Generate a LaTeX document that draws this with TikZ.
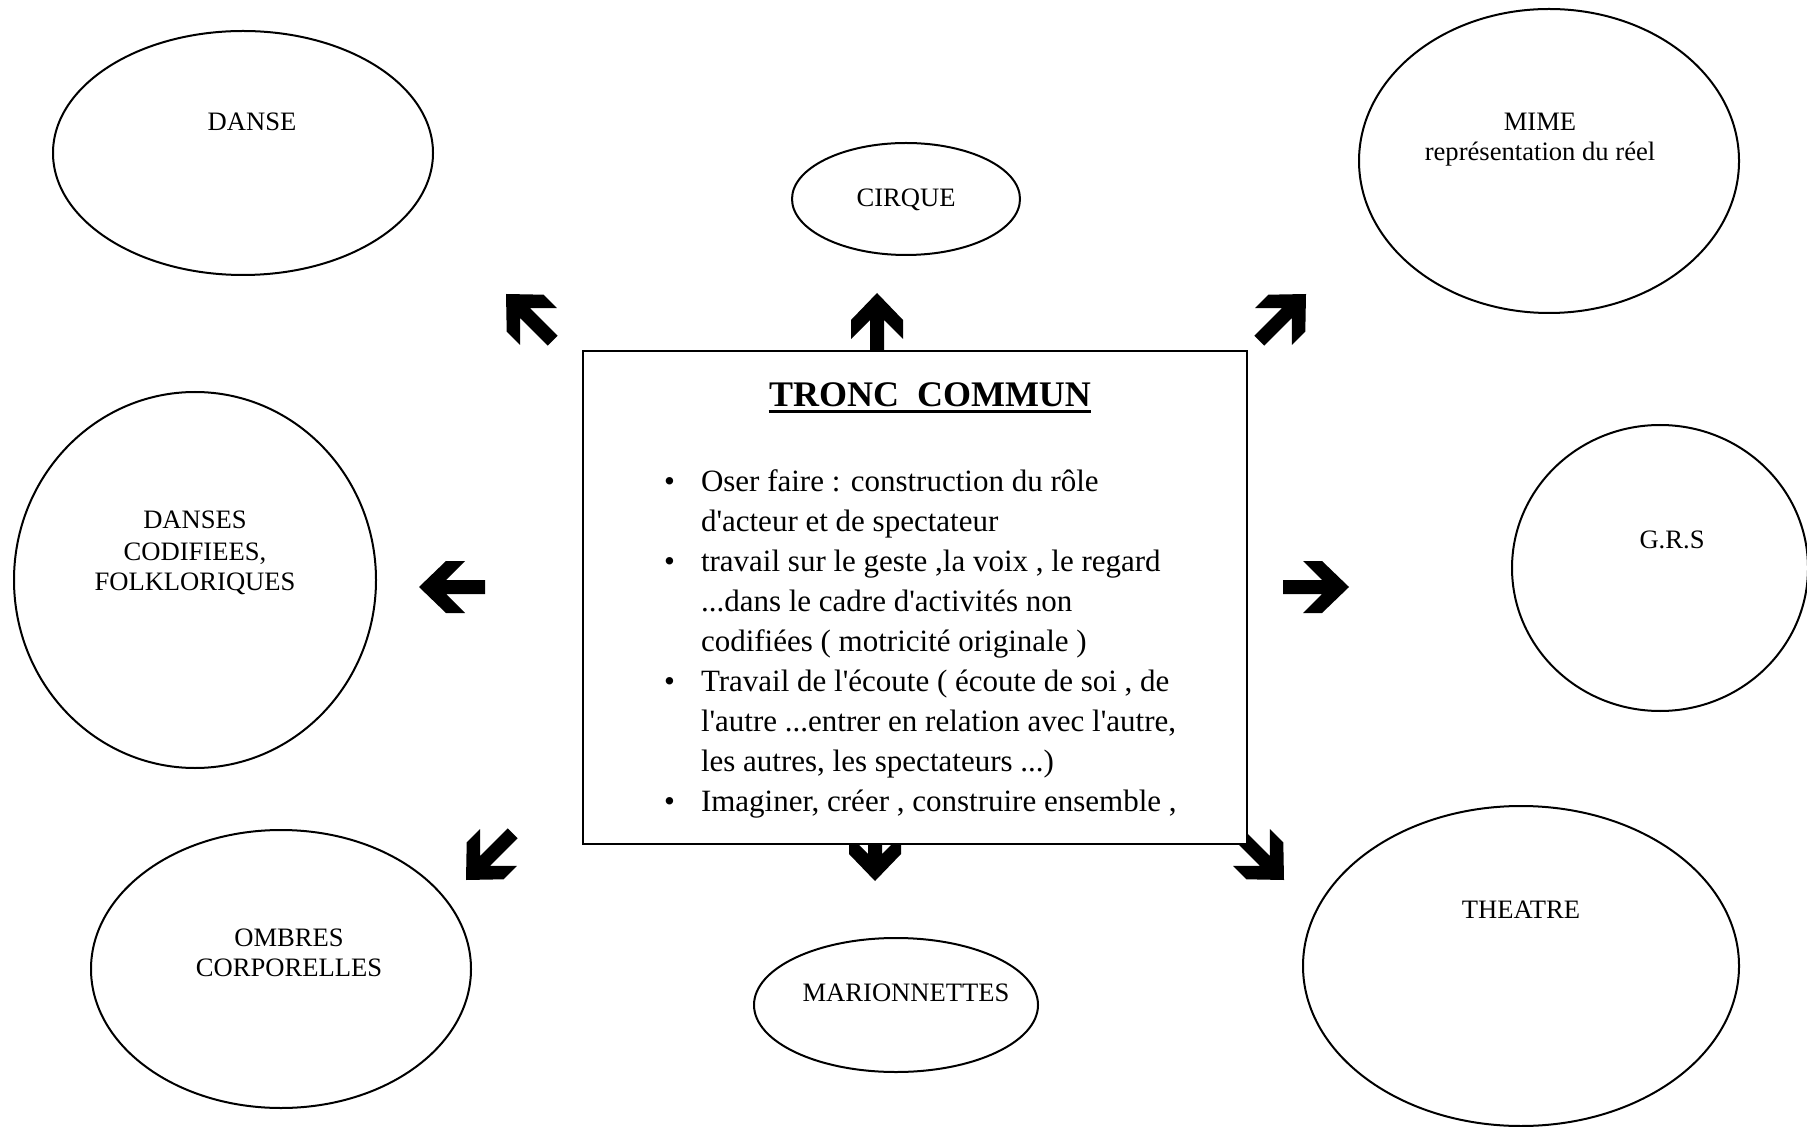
\documentclass[tikz,border=0pt]{standalone}
\usepackage{fontspec}
\setmainfont{Liberation Serif}[Ligatures=TeXOff]
\usetikzlibrary{shapes.geometric}
\begin{document}
\begin{tikzpicture}[x=0.5pt,y=-0.5pt,
    bubble/.style={draw,ellipse,line width=1pt,inner sep=0pt},
    tag/.style={font=\fontsize{13.3}{16}\selectfont,anchor=base,inner sep=0pt},
    line/.style={font=\fontsize{15.5}{20}\selectfont,anchor=base west,inner sep=0pt},
    blockarrow/.pic={\fill (0,0)--(-27,26)--(-46,26)--(-27,7)--(-66,7)--(-66,-7)--(-27,-7)--(-46,-26)--(-27,-26)--cycle;}]
    \useasboundingbox (0,0) rectangle (1807,1127);
    % activities
    \node[bubble,minimum width=190pt,minimum height=122pt] (danse) at (243,153) {};
    \node[bubble,minimum width=114pt,minimum height=56pt] (cirque) at (906,199) {};
    \node[bubble,minimum width=190pt,minimum height=152pt] (mime) at (1549,161) {};
    \node[bubble,minimum width=181pt,minimum height=188pt] (codif) at (195,580) {};
    \node[bubble,minimum width=148pt,minimum height=143pt] (grs) at (1660,568) {};
    \node[bubble,minimum width=190pt,minimum height=139pt] (ombres) at (281,969) {};
    \node[bubble,minimum width=142pt,minimum height=67pt] (mario) at (896,1005) {};
    \node[bubble,minimum width=218pt,minimum height=160pt] (theatre) at (1521,966) {};
    \node[tag] (tdanse) at (252,131) {DANSE};
    \node[tag] (tcirque) at (906,207) {CIRQUE};
    \node[tag] (tmime) at (1540,131) {MIME};
    \node[tag] (tmime2) at (1540,161) {représentation du réel};
    \node[tag] (tcodif) at (195,529) {DANSES};
    \node[tag] (tcodif2) at (195,560) {CODIFIEES,};
    \node[tag] (tcodif3) at (195,590) {FOLKLORIQUES};
    \node[tag] (tgrs) at (1672,548) {G.R.S};
    \node[tag] (tombres) at (289,946) {OMBRES};
    \node[tag] (tombres2) at (289,976) {CORPORELLES};
    \node[tag] (tmario) at (906,1001) {MARIONNETTES};
    \node[tag] (ttheatre) at (1521,918) {THEATRE};
    % arrows
    \pic[rotate=180] at (419,587) {blockarrow};
    \pic at (1349,587) {blockarrow};
    \pic[rotate=90] at (877,293) {blockarrow};
    \pic[rotate=-90] at (875,881) {blockarrow};
    \pic[rotate=135] at (506,294) {blockarrow};
    \pic[rotate=45] at (1306,294) {blockarrow};
    \pic[rotate=-135] at (466,880) {blockarrow};
    \pic[rotate=-45] at (1284,880) {blockarrow};
    % tronc commun
    \node[draw,fill=white,line width=1pt,minimum width=332pt,minimum height=246.5pt,inner sep=0pt] (tronc) at (915,597.5) {};
    \node[font=\fontsize{18}{20}\selectfont\bfseries,anchor=base,inner sep=0pt] (titre) at (930,406.7) {TRONC\ \ COMMUN};
    \draw[line width=1.5pt] ([yshift=-2.5pt]titre.base west) -- ([yshift=-2.5pt]titre.base east);
    \foreach \y in {491.7,571.7,691.7,811.7}
        \node[font=\fontsize{15.5}{20}\selectfont,anchor=base,inner sep=0pt] at (669.5,\y) {\textbullet};
    \node[line] (l1) at (700.6,491.7) {Oser faire : construction du rôle};
    \node[line] (l2) at (700.6,531.7) {d'acteur et de spectateur};
    \node[line] (l3) at (700.6,571.7) {travail sur le geste ,la voix , le regard};
    \node[line] (l4) at (700.6,611.7) {...dans le cadre d'activités non};
    \node[line] (l5) at (700.6,651.7) {codifiées ( motricité originale )};
    \node[line] (l6) at (700.6,691.7) {Travail de l'écoute ( écoute de soi , de};
    \node[line] (l7) at (700.6,731.7) {l'autre ...entrer en relation avec l'autre,};
    \node[line] (l8) at (700.6,771.7) {les autres, les spectateurs ...)};
    \node[line] (l9) at (700.6,811.7) {Imaginer, créer , construire ensemble ,};
\end{tikzpicture}
\end{document}
